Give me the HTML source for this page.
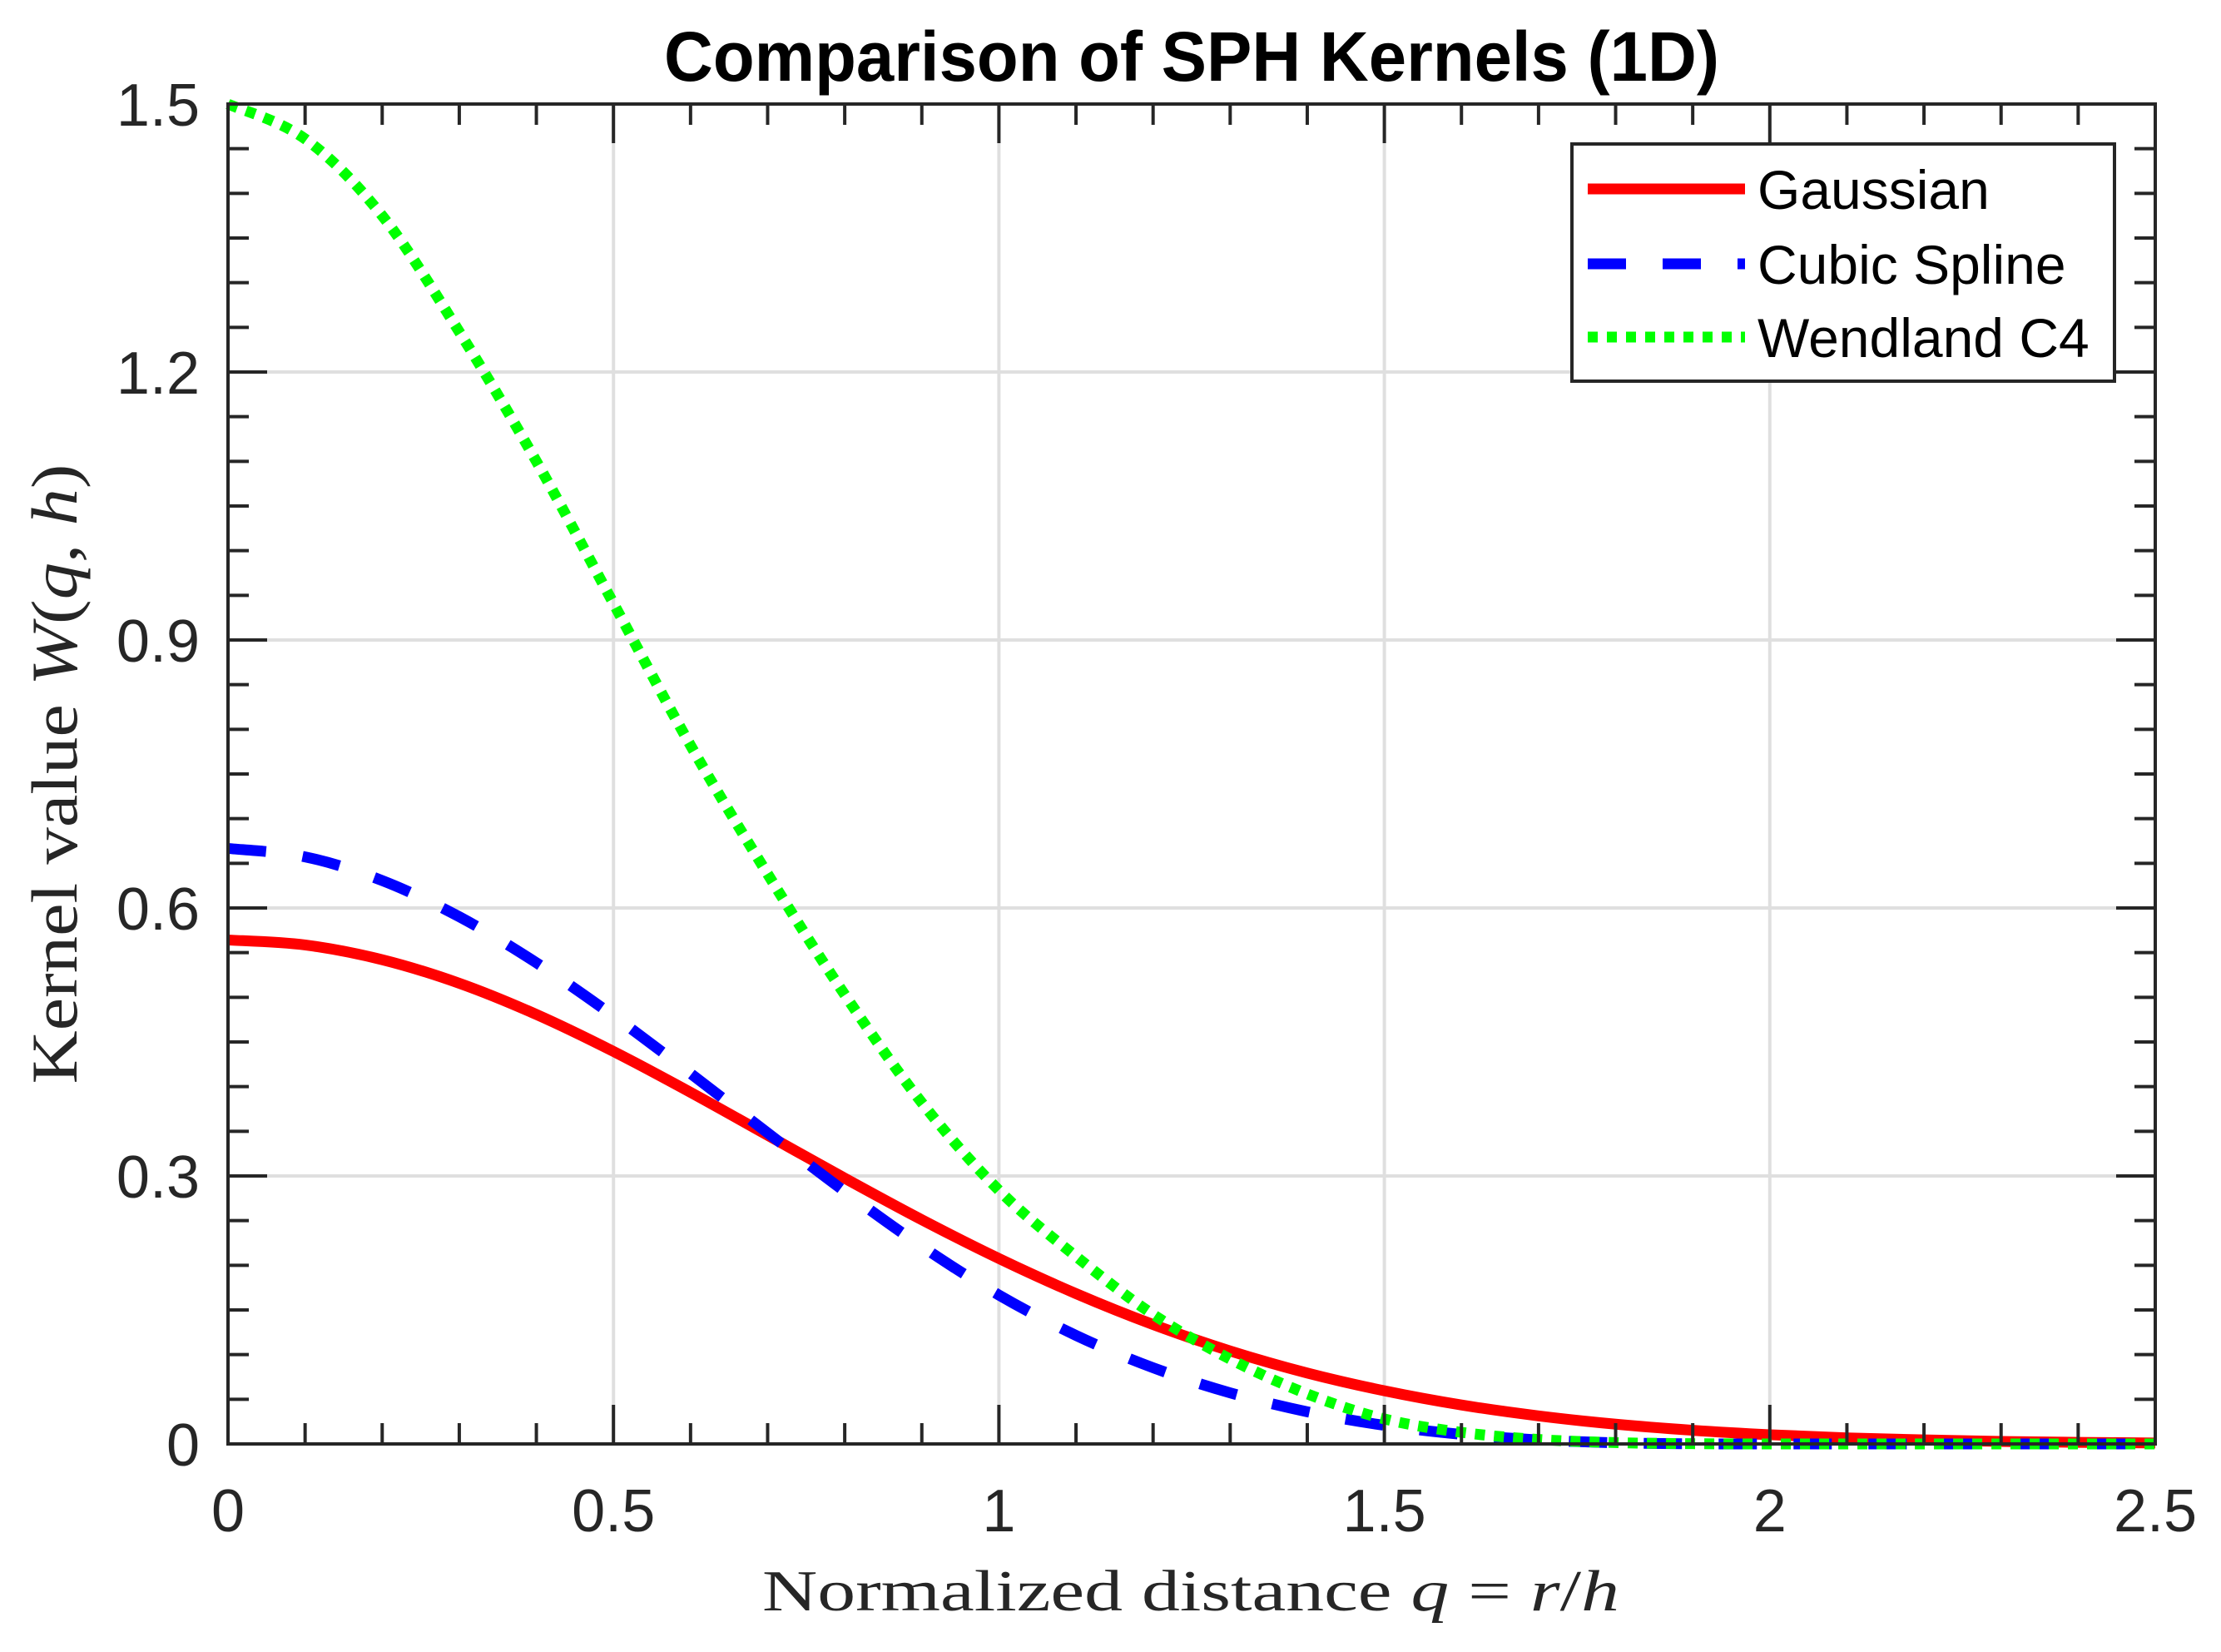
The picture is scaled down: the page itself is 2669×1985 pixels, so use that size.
<!DOCTYPE html>
<html><head><meta charset="utf-8">
<style>
html,body{margin:0;padding:0;background:#fff;}
svg{display:block;}
</style></head>
<body>
<svg id="chart" width="2669" height="1985" viewBox="0 0 2669 1985" xmlns="http://www.w3.org/2000/svg">
  <rect x="0" y="0" width="2669" height="1985" fill="#ffffff"/>
  <g id="grid"></g>
  <g id="series"></g>
  <g id="axes"></g>
  <text x="1432" y="97" text-anchor="middle" font-family="Liberation Sans, Arial, sans-serif" font-weight="bold" font-size="84" fill="#000" textLength="1268" lengthAdjust="spacingAndGlyphs">Comparison of SPH Kernels (1D)</text>
  <text x="1431" y="1935" text-anchor="middle" font-family="Liberation Serif, serif" font-size="70" fill="#262626" textLength="1030" lengthAdjust="spacingAndGlyphs">Normalized distance <tspan font-style="italic">q</tspan> = <tspan font-style="italic">r</tspan>/<tspan font-style="italic">h</tspan></text>
  <text x="0" y="0" transform="translate(92,930) rotate(-90)" text-anchor="middle" font-family="Liberation Serif, serif" font-size="78" fill="#262626" textLength="745" lengthAdjust="spacingAndGlyphs">Kernel value <tspan font-style="italic">W</tspan>(<tspan font-style="italic">q</tspan>, <tspan font-style="italic">h</tspan>)</text>
  <g id="legend"></g>
</svg>
<script>
const qValues = [0,0.1,0.2,0.3,0.4,0.5,0.6,0.7,0.8,0.9,1.0,1.1,1.2,1.3,1.4,1.5,1.6,1.7,1.8,1.9,2.0,2.1,2.2,2.3,2.4,2.5];
const gaussianValues = [0.5642,0.5586,0.5421,0.5157,0.4808,0.4394,0.3936,0.3456,0.2975,0.2510,0.2076,0.1683,0.1337,0.1041,0.0794,0.0595,0.0436,0.0314,0.0221,0.0153,0.0103,0.0068,0.0045,0.0028,0.0018,0.0011];
const cubicValues = [0.6667,0.6572,0.6307,0.5902,0.5387,0.4792,0.4147,0.3482,0.2827,0.2212,0.1667,0.1215,0.0853,0.0572,0.0360,0.0208,0.0107,0.0045,0.0013,0.0002,0,0,0,0,0,0];
const wendlandValues = [1.5,1.461,1.375,1.245,1.10,0.941,0.782,0.638,0.503,0.382,0.284,0.210,0.145,0.095,0.056,0.028,0.013,0.005,0.0015,0.0003,0,0,0,0,0,0];
const xTickValues = [0,0.5,1,1.5,2,2.5];
const xTickLabels = ["0","0.5","1","1.5","2","2.5"];
const yTickValues = [0,0.3,0.6,0.9,1.2,1.5];
const yTickLabels = ["0","0.3","0.6","0.9","1.2","1.5"];
const legendLabels = ["Gaussian","Cubic Spline","Wendland C4"];

const NS = "http://www.w3.org/2000/svg";
const L = 274, R = 2590, T = 125, B = 1735;
const xMax = 2.5, yMax = 1.5;
function xs(v){ return L + v / xMax * (R - L); }
function ys(v){ return B - v / yMax * (B - T); }
function mk(tag, attrs, parent){
  const e = document.createElementNS(NS, tag);
  for (const k in attrs) e.setAttribute(k, attrs[k]);
  parent.appendChild(e);
  return e;
}
const grid = document.getElementById('grid');
const axes = document.getElementById('axes');
const series = document.getElementById('series');
const legend = document.getElementById('legend');
const AX = '#262626';

xTickValues.forEach(v => {
  if (v === 0 || v === xMax) return;
  const g = mk('line', {x1: xs(v), x2: xs(v), y1: T, y2: B, stroke: '#dfdfdf', 'stroke-width': 4}, grid);
  
  
});
yTickValues.forEach(v => {
  if (v === 0 || v === yMax) return;
  const g = mk('line', {x1: L, x2: R, y1: ys(v), y2: ys(v), stroke: '#dfdfdf', 'stroke-width': 4}, grid);
  
  
});

function pathFor(vals){
  const pts = qValues.map((q, i) => [xs(q), ys(vals[i])]);
  let d = 'M' + pts[0][0].toFixed(2) + ',' + pts[0][1].toFixed(2);
  for (let i = 0; i < pts.length - 1; i++){
    const p0 = pts[Math.max(0, i - 1)], p1 = pts[i], p2 = pts[i + 1], p3 = pts[Math.min(pts.length - 1, i + 2)];
    const c1x = p1[0] + (p2[0] - p0[0]) / 6, c1y = p1[1] + (p2[1] - p0[1]) / 6;
    const c2x = p2[0] - (p3[0] - p1[0]) / 6, c2y = p2[1] - (p3[1] - p1[1]) / 6;
    d += ' C' + c1x.toFixed(2) + ',' + c1y.toFixed(2) + ' ' + c2x.toFixed(2) + ',' + c2y.toFixed(2) + ' ' + p2[0].toFixed(2) + ',' + p2[1].toFixed(2);
  }
  return d;
}
const gp = mk('path', {d: pathFor(gaussianValues), fill: 'none', stroke: '#ff0000', 'stroke-width': 13}, series);


const cp = mk('path', {d: pathFor(cubicValues), fill: 'none', stroke: '#0000ff', 'stroke-width': 13, 'stroke-dasharray': '46 44'}, series);


const wp = mk('path', {d: pathFor(wendlandValues), fill: 'none', stroke: '#00ff00', 'stroke-width': 13, 'stroke-dasharray': '12 11'}, series);



const box = mk('rect', {x: L, y: T, width: R - L, height: B - T, fill: 'none', stroke: AX, 'stroke-width': 4}, axes);



for (let i = 0; i <= 25; i++){
  const v = i * 0.1;
  const major = i % 5 === 0;
  const len = major ? 47 : 25;
  const t1 = mk('line', {x1: xs(v), x2: xs(v), y1: B, y2: B - len, stroke: AX, 'stroke-width': 4}, axes);
  
  
  const t2 = mk('line', {x1: xs(v), x2: xs(v), y1: T, y2: T + len, stroke: AX, 'stroke-width': 4}, axes);
  
  
}
for (let i = 0; i <= 30; i++){
  const v = i * 0.05;
  const major = i % 6 === 0;
  const len = major ? 47 : 25;
  const t1 = mk('line', {x1: L, x2: L + len, y1: ys(v), y2: ys(v), stroke: AX, 'stroke-width': 4}, axes);
  
  
  const t2 = mk('line', {x1: R, x2: R - len, y1: ys(v), y2: ys(v), stroke: AX, 'stroke-width': 4}, axes);
  
  
}
xTickValues.forEach((v, i) => {
  const t = mk('text', {x: xs(v), y: 1840, 'text-anchor': 'middle', 'font-family': 'Liberation Sans, Arial, sans-serif', 'font-size': 72, fill: AX}, axes);
  
  
  t.textContent = xTickLabels[i];
});
yTickValues.forEach((v, i) => {
  const t = mk('text', {x: 240, y: ys(v) + 26, 'text-anchor': 'end', 'font-family': 'Liberation Sans, Arial, sans-serif', 'font-size': 72, fill: AX}, axes);
  
  
  t.textContent = yTickLabels[i];
});

const lb = mk('rect', {x: 1889, y: 173, width: 652, height: 285, fill: '#ffffff', stroke: AX, 'stroke-width': 4}, legend);


const rowsY = [227, 317, 405];
const styles = [
  {stroke: '#ff0000', dash: 'none'},
  {stroke: '#0000ff', dash: '46 44'},
  {stroke: '#00ff00', dash: '12 11'}
];
legendLabels.forEach((lab, i) => {
  const ln = mk('line', {x1: 1908, x2: 2097, y1: rowsY[i], y2: rowsY[i], stroke: styles[i].stroke, 'stroke-width': 13, 'stroke-dasharray': styles[i].dash}, legend);
  
  
  const t = mk('text', {x: 2112, y: rowsY[i] + 24, 'font-family': 'Liberation Sans, Arial, sans-serif', 'font-size': 66, fill: '#000'}, legend);
  
  
  t.textContent = lab;
});
</script>
</body></html>
